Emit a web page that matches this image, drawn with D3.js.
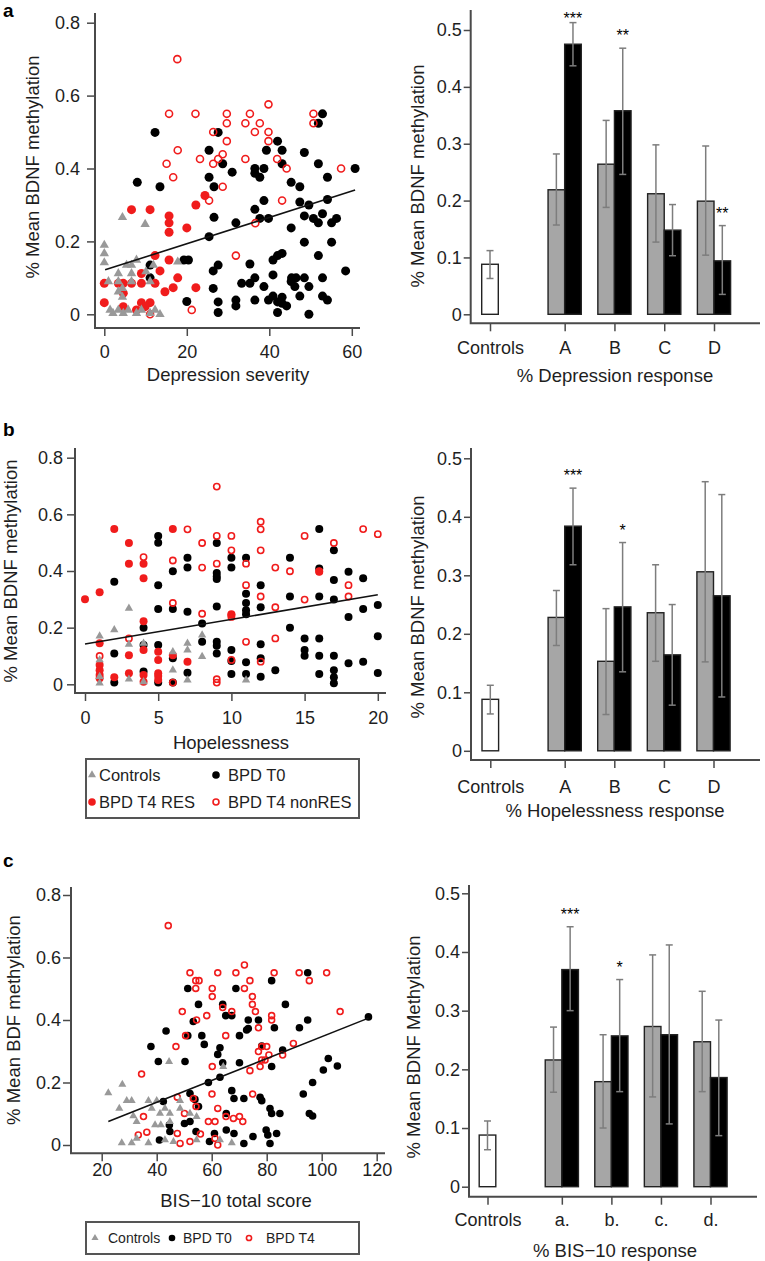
<!DOCTYPE html>
<html><head><meta charset="utf-8">
<script src="https://cdn.jsdelivr.net/npm/d3@7"></script>
<style>
body{margin:0;background:#fff;}
svg{display:block;}
</style></head><body>
<svg id="chart" width="765" height="1261"></svg>
<script>
// ---------- Scatter data: [score, % mean BDNF methylation] ----------
const aControls = [[0,0.19],[0,0.167],[0,0.142],[4.4,0.266],[9.9,0.247],[3.4,0.112],[3.4,0.09],[5.4,0.135],[6.6,0.135],[7.8,0.149],[6.6,0.112],[6.6,0.09],[4.4,0.071],[3.4,0.062],[4.4,0.047],[10.1,0.117],[11.1,0.09],[17.8,0.144],[1.4,0.012],[2.1,0.003],[3.4,0.012],[4.6,0.003],[5.8,0.012],[7.8,0.003],[9.0,0.012],[11.1,0.003],[12.3,0.012],[13.5,0.0],[1.0,0.09],[11.9,0.135]];
const aT0 = [[12.3,0.499],[27.6,0.499],[52.9,0.55],[51.9,0.524],[8.0,0.362],[13.5,0.35],[25.4,0.45],[28.7,0.413],[31.0,0.39],[25.4,0.376],[26.6,0.35],[36.5,0.40],[36.5,0.387],[37.7,0.376],[38.7,0.40],[39.3,0.45],[42.0,0.475],[43.1,0.45],[43.1,0.413],[48.5,0.444],[51.9,0.413],[54.1,0.376],[60.8,0.40],[45.3,0.362],[47.4,0.35],[38.7,0.312],[47.4,0.308],[49.6,0.30],[54.1,0.315],[36.5,0.288],[37.7,0.263],[39.8,0.263],[48.5,0.27],[50.7,0.263],[51.9,0.251],[52.9,0.276],[55.1,0.251],[56.3,0.263],[26.6,0.266],[31.9,0.251],[45.3,0.237],[25.4,0.213],[48.5,0.198],[55.1,0.198],[51.9,0.161],[40.9,0.149],[42.0,0.161],[43.1,0.167],[58.5,0.119],[19.3,0.149],[20.4,0.149],[11.1,0.135],[27.6,0.135],[35.3,0.138],[26.4,0.119],[40.9,0.108],[36.5,0.10],[45.4,0.10],[46.5,0.10],[48.5,0.10],[52.9,0.10],[33.3,0.085],[35.3,0.085],[38.7,0.076],[45.3,0.09],[46.2,0.076],[49.6,0.076],[26.4,0.071],[11.1,0.10],[20.0,0.035],[27.6,0.034],[31.9,0.039],[31.9,0.023],[36.5,0.039],[39.8,0.039],[40.9,0.05],[42.0,0.034],[43.1,0.047],[43.1,0.03],[44.2,0.023],[47.4,0.05],[52.9,0.05],[54.1,0.039],[27.6,0.005],[42.0,0.005],[49.6,0.0]];
const aT4Res = [[6.6,0.287],[11.1,0.287],[15.7,0.27],[15.7,0.251],[15.7,0.225],[20.0,0.237],[22.2,0.30],[24.4,0.326],[12.3,0.161],[15.7,0.149],[13.5,0.119],[17.8,0.10],[16.7,0.073],[14.7,0.062],[22.2,0.073],[12.3,0.085],[9.0,0.112],[9.0,0.085],[6.6,0.085],[4.6,0.085],[3.4,0.085],[0,0.085],[0,0.032],[4.6,0.021],[7.8,0.012],[9.0,0.032],[11.1,0.032],[9.9,0.021],[4.6,0.058]];
const aT4NonRes = [[17.7,0.70],[15.7,0.55],[22.1,0.55],[29.7,0.55],[35.3,0.55],[39.8,0.576],[29.7,0.524],[34.2,0.524],[37.7,0.524],[50.7,0.55],[50.7,0.524],[26.4,0.50],[36.5,0.50],[39.8,0.50],[29.7,0.475],[39.8,0.475],[17.8,0.45],[15.1,0.413],[16.7,0.376],[23.2,0.426],[26.4,0.413],[27.6,0.426],[28.7,0.439],[34.2,0.426],[41.9,0.426],[44.2,0.40],[57.4,0.40],[28.7,0.35],[25.4,0.312],[43.1,0.312],[36.6,0.25],[31.9,0.161],[11.1,0.0],[21.2,0.012]];
const aFit = [[0.2,0.122],[60.8,0.341]];

const bControls = [[3,0.268],[2,0.192],[1,0.17],[3,0.141],[4,0.145],[7,0.121],[7,0.145],[8,0.174],[8,0.098],[6,0.115],[1,0.086],[1,0.027],[1,0.004],[3,0.018],[4,0.009],[6,0.05],[7,0.015],[11,0.015]];
const bT0 = [[16,0.548],[5,0.524],[5,0.50],[9,0.499],[10,0.447],[11,0.447],[7,0.447],[7,0.412],[10,0.412],[14,0.447],[17,0.473],[6,0.399],[9,0.393],[9,0.381],[9,0.372],[16,0.409],[17,0.368],[18,0.397],[2,0.362],[5,0.35],[12,0.35],[11,0.32],[14,0.31],[16,0.31],[17,0.299],[19,0.374],[5,0.266],[6,0.266],[7,0.256],[9,0.275],[11,0.287],[11,0.261],[11,0.247],[12,0.272],[8,0.215],[4,0.20],[14,0.20],[18,0.238],[19,0.266],[15,0.162],[16,0.162],[15,0.121],[15,0.101],[16,0.101],[17,0.101],[8,0.15],[9,0.15],[9,0.136],[9,0.109],[10,0.121],[12,0.141],[5,0.139],[4,0.139],[2,0.109],[6,0.092],[10,0.082],[11,0.078],[12,0.092],[18,0.074],[2,0.006],[4,0.045],[5,0.006],[6,0.006],[7,0.041],[10,0.036],[11,0.036],[12,0.027],[13,0.05],[16,0.036],[17,0.05],[17,0.025],[17,0.004],[20,0.17],[20,0.04],[19,0.08],[20,0.28]];
const bT4Res = [[2,0.548],[6,0.548],[3,0.499],[3,0.426],[4,0.426],[4,0.374],[1,0.325],[0,0.30],[4,0.223],[1,0.145],[3,0.103],[4,0.121],[5,0.115],[5,0.086],[6,0.103],[7,0.08],[1,0.033],[1,0.021],[2,0.025],[3,0.039],[4,0.033],[4,0.009],[5,0.015],[5,0.029],[5,0.039],[1,0.068],[1,0.05],[10,0.247],[16,0.397]];
const bT4NonRes = [[9,0.698],[12,0.574],[12,0.547],[7,0.547],[9,0.524],[10,0.524],[8,0.499],[10,0.473],[12,0.473],[15,0.524],[17,0.499],[4,0.449],[6,0.437],[9,0.426],[11,0.426],[8,0.412],[13,0.412],[14,0.399],[16,0.399],[11,0.35],[12,0.31],[13,0.272],[15,0.299],[18,0.35],[18,0.31],[6,0.287],[8,0.249],[10,0.245],[10,0.238],[3,0.162],[11,0.15],[13,0.162],[1,0.1],[10,0.086],[12,0.08],[19,0.548],[20,0.53],[6,0.006],[9,0.006],[9,0.018]];
const bFit = [[0,0.142],[20,0.316]];

const cControls = [[44.5,0.267],[27.5,0.194],[64.2,0.251],[22.4,0.167],[29.1,0.142],[30.9,0.142],[26.4,0.117],[37.0,0.142],[38.2,0.117],[31.5,0.093],[32.7,0.075],[27.3,0.007],[30.9,0.007],[32.7,0.021],[40.0,0.142],[41.2,0.101],[43.0,0.117],[44.8,0.101],[41.5,0.064],[44.8,0.075],[48.5,0.142],[48.5,0.117],[52.1,0.101],[54.5,0.091],[54.5,0.016],[63.0,0.016],[67.3,0.007],[43.0,0.016],[37.0,0.007],[39.4,0.064],[46.1,0.011]];
const cT0 = [[94.9,0.551],[81.8,0.526],[51.3,0.501],[68.8,0.501],[55.2,0.45],[64.0,0.45],[65.1,0.414],[67.3,0.414],[86.8,0.45],[73.3,0.40],[77.0,0.40],[73.3,0.373],[82.8,0.375],[91.9,0.375],[94.9,0.40],[53.3,0.395],[43.4,0.365],[51.3,0.35],[56.4,0.35],[70.1,0.35],[72.7,0.368],[37.9,0.315],[57.3,0.322],[63.0,0.311],[62.2,0.29],[78.2,0.317],[40.6,0.267],[50.3,0.267],[64.0,0.263],[70.1,0.263],[81.8,0.251],[85.8,0.304],[102.4,0.277],[105.7,0.253],[100.6,0.24],[96.7,0.20],[58.8,0.20],[63.0,0.217],[67.3,0.174],[117,0.41],[42.4,0.139],[44.6,0.064],[44.8,0.043],[41.0,0.016],[52.1,0.165],[53.9,0.146],[55.2,0.123],[52.1,0.075],[54.3,0.043],[50.1,0.069],[59.2,0.011],[61.0,0.037],[65.3,0.101],[65.3,0.048],[68.1,0.149],[68.1,0.037],[71.7,0.149],[71.7,0.005],[75.0,0.027],[77.6,0.153],[78.2,0.142],[81.2,0.117],[81.8,0.101],[84.8,0.101],[79.8,0.048],[80.4,0.032],[81.2,0.005],[83.6,0.037],[93.3,0.163],[95.5,0.101],[96.7,0.093]];
const cT4 = [[44.2,0.702],[52.1,0.551],[62.2,0.551],[68.8,0.551],[71.9,0.576],[82.7,0.551],[91.8,0.551],[101.8,0.551],[54.2,0.526],[55.4,0.526],[54.2,0.501],[60.2,0.501],[60.2,0.475],[71.9,0.501],[73.9,0.526],[74.8,0.475],[74.8,0.45],[95.5,0.526],[49.3,0.427],[54.5,0.40],[58.2,0.414],[64.0,0.44],[67.3,0.427],[75.9,0.427],[81.8,0.414],[81.8,0.40],[106.7,0.427],[50.5,0.35],[65.1,0.35],[77.0,0.375],[47.0,0.315],[78.2,0.315],[80.0,0.315],[77.0,0.299],[89.7,0.325],[85.8,0.288],[80.8,0.288],[78.2,0.272],[79.4,0.272],[60.2,0.251],[73.9,0.238],[77.6,0.251],[34.5,0.227],[35.2,0.091],[33.3,0.032],[36.4,0.041],[47.5,0.153],[47.5,0.037],[48.5,0.005],[50.1,0.101],[52.1,0.011],[53.3,0.149],[54.3,0.123],[55.9,0.035],[58.8,0.075],[60.1,0.163],[61.2,0.075],[62.2,0.117],[61.2,0.021],[62.2,0.0],[65.2,0.091],[67.9,0.085],[70.1,0.091],[71.3,0.075],[74.9,0.163]];
const cFit = [[22.4,0.075],[117,0.406]];

// tick labels
const scatterYTicks = [0,0.2,0.4,0.6,0.8];
const aXTicks = [0,20,40,60];
const bXTicks = [0,5,10,15,20];
const cXTicks = [20,40,60,80,100,120];
const barYTicks = [0,0.1,0.2,0.3,0.4,0.5];

// ---------- Bar data ----------
const barCatsUpper = ["Controls","A","B","C","D"];
const barCatsLower = ["Controls","a.","b.","c.","d."];
const ctrlMean = 0.088, ctrlLo = 0.063, ctrlHi = 0.112;

const depGrey = [0.219,0.264,0.212,0.199];
const depGreyLo = [0.157,0.188,0.127,0.104];
const depGreyHi = [0.282,0.341,0.298,0.296];
const depBlack = [0.475,0.358,0.148,0.094];
const depBlackLo = [0.437,0.246,0.103,0.035];
const depBlackHi = [0.513,0.468,0.193,0.156];
const depSig = ["***","**","","**"];

const hopGrey = [0.228,0.153,0.236,0.306];
const hopGreyLo = [0.18,0.062,0.153,0.152];
const hopGreyHi = [0.274,0.243,0.318,0.46];
const hopBlack = [0.384,0.246,0.164,0.265];
const hopBlackLo = [0.318,0.135,0.078,0.092];
const hopBlackHi = [0.449,0.356,0.25,0.438];
const hopSig = ["***","*","",""];

const bisGrey = [0.216,0.179,0.273,0.247];
const bisGreyLo = [0.161,0.10,0.153,0.162];
const bisGreyHi = [0.272,0.259,0.395,0.333];
const bisBlack = [0.37,0.257,0.259,0.186];
const bisBlackLo = [0.30,0.162,0.107,0.087];
const bisBlackHi = [0.443,0.353,0.412,0.284];
const bisSig = ["***","*","",""];

// ---------- drawing ----------
const FONT = '"Liberation Sans", Arial, Helvetica, sans-serif';
const RED = "#f01c1c", GREY = "#999999", AXIS = "#4a4a4a", TXT = "#1e1e1e";
const svg = d3.select("#chart").attr("font-family", FONT);

function styleAxis(sel, fs) {
  sel.attr("font-family", FONT);
  sel.select(".domain").remove();
  sel.selectAll(".tick line").attr("stroke", AXIS).attr("stroke-width", 1.5);
  sel.selectAll(".tick text").attr("fill", TXT).attr("font-size", fs);
}
function fmtNum(d) { return d === 0 ? "0" : String(d); }

function drawMarker(g, kind, cx, cy, color, r, triSize) {
  if (kind === "dot") {
    g.append("circle").attr("cx", cx).attr("cy", cy).attr("r", r).attr("fill", color);
  } else if (kind === "ring") {
    g.append("circle").attr("cx", cx).attr("cy", cy).attr("r", r * 0.78).attr("fill", "none")
      .attr("stroke", color).attr("stroke-width", 1.6);
  } else {
    g.append("path").attr("d", d3.symbol().type(d3.symbolTriangle).size(triSize)())
      .attr("transform", `translate(${cx},${cy})`).attr("fill", color);
  }
}

function drawScatter(c) {
  const g = svg.append("g");
  const x = d3.scaleLinear().domain(c.xDomain).range(c.xRange);
  const y = d3.scaleLinear().domain([0, 0.8]).range(c.yRange);
  g.append("g").attr("transform", `translate(${c.axisX},0)`)
    .call(d3.axisLeft(y).tickValues(scatterYTicks).tickSize(c.tick).tickPadding(c.yPad).tickFormat(fmtNum))
    .call(s => styleAxis(s, 18));
  g.append("g").attr("transform", `translate(0,${c.axisY})`)
    .call(d3.axisBottom(x).tickValues(c.xTicks).tickSize(c.tick).tickPadding(c.xPad).tickFormat(fmtNum))
    .call(s => styleAxis(s, 18));
  g.append("path").attr("d", `M${c.axisX},${c.top}V${c.axisY}H${c.right}`)
    .attr("fill", "none").attr("stroke", AXIS).attr("stroke-width", 2);
  c.series.forEach(s => {
    s.data.forEach(d => drawMarker(g, s.kind, x(d[0]), y(d[1]), s.color, c.r, c.tri));
  });
  g.append("path").attr("d", d3.line().x(d => x(d[0])).y(d => y(d[1]))(c.fit))
    .attr("stroke", "#111").attr("stroke-width", 1.6).attr("fill", "none");
  g.append("text").attr("x", c.xTitleX).attr("y", c.xTitleY).attr("text-anchor", "middle")
    .attr("font-size", 18.5).attr("fill", TXT).text(c.xTitle);
  g.append("text").attr("transform", `translate(${c.yTitleX},${c.yTitleY}) rotate(-90)`)
    .attr("text-anchor", "middle").attr("font-size", 18.5).attr("fill", TXT).text(c.yTitle);
}

function drawBars(c) {
  const g = svg.append("g");
  const y = d3.scaleLinear().domain([0, 0.5]).range([c.yZero, c.yTop]);
  const pos = i => (i === 0 ? 0 : i + 0.5);
  const x = d3.scaleLinear().domain([0, 4.5]).range([c.x0, c.x1]);
  const bw = 16.6;
  g.append("g").attr("transform", `translate(${c.axisX},0)`)
    .call(d3.axisLeft(y).tickValues(barYTicks).tickSize(7).tickPadding(2).tickFormat(fmtNum))
    .call(s => styleAxis(s, 18));
  g.append("g").attr("transform", `translate(0,${c.axisY})`)
    .call(d3.axisBottom(d3.scaleOrdinal().domain(c.cats).range(c.cats.map((d, i) => x(pos(i)))))
      .tickValues(c.cats).tickSize(8).tickPadding(c.xPad))
    .call(s => styleAxis(s, 18));
  g.append("path").attr("d", `M${c.axisX},${c.top}V${c.axisY}H${c.right}`)
    .attr("fill", "none").attr("stroke", AXIS).attr("stroke-width", 2);

  const bars = [{cx: x(0), v: ctrlMean, lo: ctrlLo, hi: ctrlHi, fill: "#fff", sig: ""}];
  for (let i = 0; i < 4; i++) {
    const cx = x(pos(i + 1));
    bars.push({cx: cx - bw / 2, v: c.grey[i], lo: c.greyLo[i], hi: c.greyHi[i], fill: "#a6a6a6", sig: ""});
    bars.push({cx: cx + bw / 2, v: c.black[i], lo: c.blackLo[i], hi: c.blackHi[i], fill: "#000", sig: c.sig[i]});
  }
  bars.forEach(b => {
    g.append("rect").attr("x", b.cx - bw / 2).attr("width", bw)
      .attr("y", y(b.v)).attr("height", y(0) - y(b.v))
      .attr("fill", b.fill).attr("stroke", "#222").attr("stroke-width", 1.4);
  });
  bars.forEach(b => {
    const ew = "#7d7d7d";
    g.append("line").attr("x1", b.cx).attr("x2", b.cx).attr("y1", y(b.lo)).attr("y2", y(b.hi))
      .attr("stroke", ew).attr("stroke-width", 1.5);
    [b.lo, b.hi].forEach(v => g.append("line").attr("x1", b.cx - 3.5).attr("x2", b.cx + 3.5)
      .attr("y1", y(v)).attr("y2", y(v)).attr("stroke", ew).attr("stroke-width", 1.5));
    if (b.sig) {
      const cy = Math.max(y(b.hi) - 16, 15);
      g.append("text").attr("x", b.cx).attr("y", cy + 9).attr("text-anchor", "middle")
        .attr("font-size", 16).attr("fill", "#000").text(b.sig);
    }
  });
  g.append("text").attr("x", 615).attr("y", c.titleY).attr("text-anchor", "middle")
    .attr("font-size", 18.5).attr("fill", TXT).text(c.title);
  g.append("text").attr("transform", `translate(${c.yTitleX},${c.yTitleY}) rotate(-90)`)
    .attr("text-anchor", "middle").attr("font-size", 18.5).attr("fill", TXT).text(c.yTitle);
}

// panel letters
[["a", 17], ["b", 436], ["c", 867]].forEach(([t, yy]) =>
  svg.append("text").attr("x", 3).attr("y", yy).attr("font-size", 19).attr("font-weight", "bold").attr("fill", "#000").text(t));

drawScatter({xDomain: [0, 60], xRange: [104.3, 351.8], yRange: [314.3, 22.7], axisX: 95, axisY: 328, top: 13, right: 360,
  xTicks: aXTicks, tick: 8, yPad: 7, xPad: 9, xTitle: "Depression severity", xTitleX: 228, xTitleY: 381,
  yTitle: "% Mean BDNF methylation", yTitleX: 39, yTitleY: 167, r: 4.5, tri: 38, fit: aFit,
  series: [{data: aT0, kind: "dot", color: "#000"}, {data: aT4Res, kind: "dot", color: RED},
    {data: aT4NonRes, kind: "ring", color: RED}, {data: aControls, kind: "tri", color: GREY}]});

drawScatter({xDomain: [0, 20], xRange: [85, 377.8], yRange: [684.3, 457.7], axisX: 75, axisY: 693, top: 448, right: 386,
  xTicks: bXTicks, tick: 8, yPad: 4, xPad: 10, xTitle: "Hopelessness", xTitleX: 231, xTitleY: 749,
  yTitle: "% Mean BDNF methylation", yTitleX: 17, yTitleY: 571, r: 4, tri: 30, fit: bFit,
  series: [{data: bT0, kind: "dot", color: "#000"}, {data: bT4Res, kind: "dot", color: RED},
    {data: bT4NonRes, kind: "ring", color: RED}, {data: bControls, kind: "tri", color: GREY}]});

drawScatter({xDomain: [20, 120], xRange: [101.7, 376.7], yRange: [1145, 895], axisX: 71, axisY: 1153.3, top: 887, right: 385,
  xTicks: cXTicks, tick: 8, yPad: 2, xPad: 2, xTitle: "BIS\u221210 total score", xTitleX: 236, xTitleY: 1207,
  yTitle: "% Mean BDF methylation", yTitleX: 20, yTitleY: 1020, r: 3.8, tri: 28, fit: cFit,
  series: [{data: cT0, kind: "dot", color: "#000"}, {data: cT4, kind: "ring", color: RED},
    {data: cControls, kind: "tri", color: GREY}]});

drawBars({cats: barCatsUpper, grey: depGrey, greyLo: depGreyLo, greyHi: depGreyHi, black: depBlack, blackLo: depBlackLo,
  blackHi: depBlackHi, sig: depSig, x0: 490, x1: 714, yZero: 314.3, yTop: 30, axisX: 470.7, axisY: 323.3, top: 10, right: 760,
  xPad: 10, title: "% Depression response", titleY: 382, yTitle: "% Mean BDNF methylation", yTitleX: 424, yTitleY: 176});

drawBars({cats: barCatsUpper, grey: hopGrey, greyLo: hopGreyLo, greyHi: hopGreyHi, black: hopBlack, blackLo: hopBlackLo,
  blackHi: hopBlackHi, sig: hopSig, x0: 490.3, x1: 713.5, yZero: 750.8, yTop: 458.3, axisX: 471, axisY: 760, top: 448, right: 760,
  xPad: 12, title: "% Hopelessness response", titleY: 817, yTitle: "% Mean BDNF methylation", yTitleX: 424, yTitleY: 607});

drawBars({cats: barCatsLower, grey: bisGrey, greyLo: bisGreyLo, greyHi: bisGreyHi, black: bisBlack, blackLo: bisBlackLo,
  blackHi: bisBlackHi, sig: bisSig, x0: 487.5, x1: 710.5, yZero: 1186.7, yTop: 893.3, axisX: 469, axisY: 1196.7, top: 885, right: 757,
  xPad: 8.5, title: "% BIS\u221210 response", titleY: 1257, yTitle: "% Mean BDNF Methylation", yTitleX: 420, yTitleY: 1047});

// legends
function legend(box, items, fs, r, tri) {
  const g = svg.append("g");
  g.append("rect").attr("x", box[0]).attr("y", box[1]).attr("width", box[2]).attr("height", box[3])
    .attr("fill", "none").attr("stroke", "#555").attr("stroke-width", 2);
  items.forEach(it => {
    drawMarker(g, it.kind, it.mx, it.y, it.color, r, tri);
    g.append("text").attr("x", it.tx).attr("y", it.y + fs * 0.36).attr("font-size", fs).attr("fill", TXT).text(it.label);
  });
}
legend([86, 759, 273, 59], [
  {kind: "tri", color: GREY, mx: 92, tx: 99, y: 775, label: "Controls"},
  {kind: "dot", color: "#000", mx: 216, tx: 228, y: 775, label: "BPD T0"},
  {kind: "dot", color: RED, mx: 92, tx: 99, y: 802, label: "BPD T4 RES"},
  {kind: "ring", color: RED, mx: 216, tx: 228, y: 802, label: "BPD T4 nonRES"}], 16.5, 3.8, 28);
legend([86, 1222, 273, 32], [
  {kind: "tri", color: GREY, mx: 95, tx: 108, y: 1238, label: "Controls"},
  {kind: "dot", color: "#000", mx: 172, tx: 183, y: 1238, label: "BPD T0"},
  {kind: "ring", color: RED, mx: 249, tx: 266, y: 1238, label: "BPD T4"}], 14, 3.3, 22);
</script>
</body></html>
